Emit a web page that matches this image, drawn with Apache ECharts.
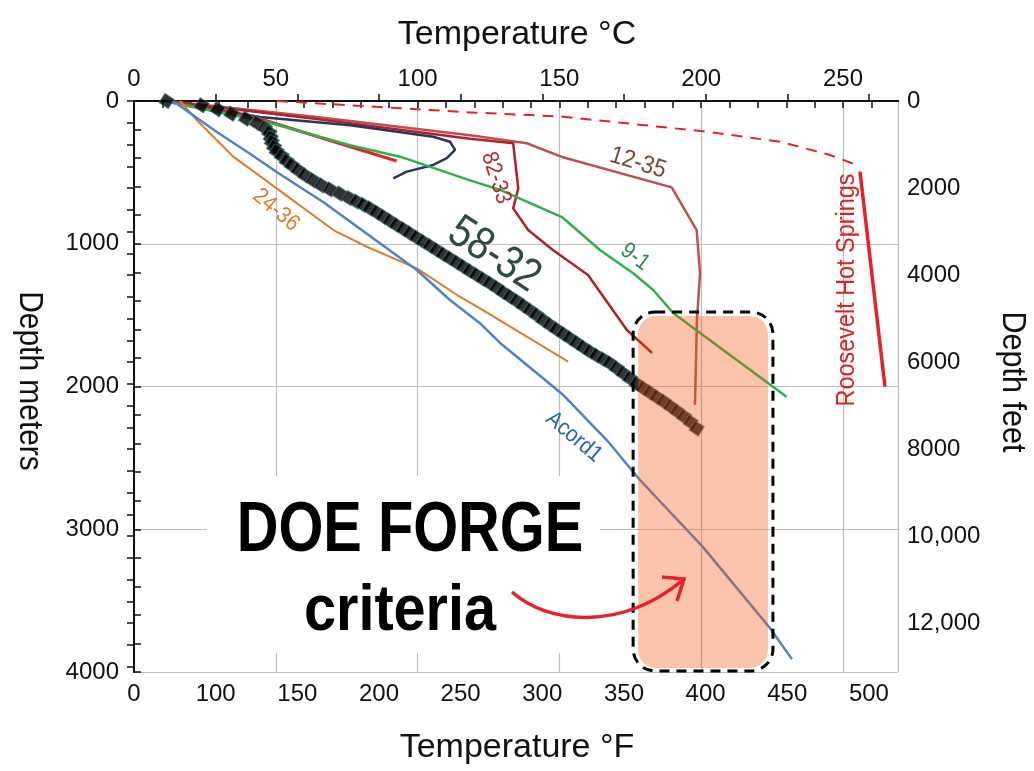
<!DOCTYPE html>
<html>
<head>
<meta charset="utf-8">
<script src="https://cdn.jsdelivr.net/npm/echarts@6/dist/echarts.min.js"></script>
<style>
  html, body { margin: 0; padding: 0; background: #fff; }
  #chart { width: 1034px; height: 771px; }
</style>
</head>
<body>
<div id="chart"></div>
<script>
// tick labels
const tempCTicks = [0, 50, 100, 150, 200, 250];
const tempFTicks = [100, 150, 200, 250, 300, 350, 400, 450, 500];
const depthMTicks = [0, 1000, 2000, 3000, 4000];
const depthFtTicks = [0, 2000, 4000, 6000, 8000, 10000, 12000];

// well profiles: [temperature °C, depth m]
const well5832 = [
  [11.5, 0], [23.9, 30], [29.5, 58], [34.4, 89], [39.5, 124], [43.3, 154], [46.2, 189],
  [47.7, 222], [48.2, 257], [48.6, 287], [49.4, 322], [50.3, 352], [52.1, 385], [53.8, 420],
  [55.6, 450], [57.9, 485], [60.3, 520], [63.2, 556], [66.2, 591], [69.1, 619], [72.6, 649],
  [75.9, 680], [78.5, 705], [80.9, 728], [83.2, 752], [85.6, 781], [87.9, 810], [90.3, 840],
  [92.6, 869], [95.0, 898], [97.3, 927], [99.6, 956], [102.0, 986], [104.4, 1015], [106.7, 1044],
  [109.0, 1073], [111.4, 1102], [113.8, 1132], [116.1, 1161], [118.4, 1190], [120.8, 1219],
  [123.1, 1248], [125.5, 1277], [127.9, 1308], [130.2, 1340], [132.6, 1371], [135.0, 1402],
  [137.3, 1434], [139.7, 1467], [142.0, 1500], [144.3, 1535], [146.7, 1569], [149.0, 1600],
  [151.4, 1631], [153.7, 1662], [156.1, 1694], [158.4, 1725], [160.8, 1756], [163.1, 1783],
  [165.5, 1810], [167.8, 1837], [170.2, 1872], [172.5, 1907], [174.9, 1943], [177.2, 1980],
  [179.6, 2012], [182.0, 2043], [184.4, 2075], [186.8, 2106], [189.2, 2140], [191.6, 2175],
  [194.0, 2211], [196.3, 2250], [198.4, 2293]
];
const wellAcord1 = [
  [11.6, 0], [15.1, 19], [29.2, 217], [40.9, 369], [50.3, 497], [66.7, 708], [99.7, 1184],
  [111.4, 1394], [122.0, 1557], [129.1, 1695], [151.4, 2060], [166.7, 2375], [178.4, 2655],
  [200.5, 3122], [224.3, 3694], [232.0, 3910]
];
const well2436 = [
  [16.2, 0], [22.1, 133], [35.0, 390], [50.3, 612], [70.3, 904], [82.1, 1021], [99.7, 1172],
  [114.9, 1371], [122.0, 1452], [153.1, 1826]
];
const well91 = [
  [11.6, 0], [15.1, 19], [46.8, 147], [76.2, 310], [93.8, 390], [118.5, 556], [129.1, 623],
  [150.9, 813], [164.3, 1044], [175.9, 1205], [183.1, 1324], [190.2, 1487], [230.1, 2071]
];
const well1235 = [
  [11.6, 0], [25.6, 30], [64.4, 112], [118.5, 240], [138.5, 296], [150.9, 392], [189.6, 605],
  [198.4, 904], [199.6, 1205], [198.5, 1534], [197.8, 2130]
];
const well8233 = [
  [11.6, 0], [25.6, 35], [64.4, 126], [118.5, 264], [133.7, 296], [135.5, 612], [133.7, 752],
  [139.0, 904], [147.7, 1044], [160.1, 1219], [173.8, 1604], [182.7, 1765]
];
const wellRedShort = [[11.6, 0], [44.4, 124], [69.1, 277], [92.6, 420]];
const wellNavy = [
  [11.6, 0], [44.4, 112], [76.2, 170], [105.5, 250], [111.4, 285], [113.2, 343], [110.3, 401],
  [105.5, 448], [96.2, 495], [91.4, 542]
];
const rooseveltShallow = [
  [50.4, 0], [116.1, 77], [151.4, 110], [201.9, 215], [227.8, 285], [245.4, 378], [254.8, 448]
];
const rooseveltDeep = [[256.0, 495], [264.8, 2001]];

// FORGE criteria window
const criteriaTemp = [176, 225.3];
const criteriaDepth = [1478, 3993];

const FONT = "'Liberation Sans', Arial, sans-serif";
const TMAX = 269.4, FMIN = 50, FMAX = 517.8, DMAX = 4000, FTMAX = 4000 / 0.3048;

const cMinor = [];
for (let v = 0; v <= 260; v += 10) cMinor.push(v);
const ftMinor = [];
for (let v = 0; v <= 13000; v += 500) ftMinor.push(v);

const chart = echarts.init(document.getElementById('chart'));

function lineSeries(name, data, color, width, type) {
  return {
    name: name, type: 'line', data: data, xAxisIndex: 0, yAxisIndex: 0,
    symbol: 'none', smooth: false, z: 3,
    lineStyle: { color: color, width: width, type: type || 'solid' }
  };
}

const axisText = { color: '#111', fontSize: 24, fontFamily: FONT };

const option = {
  animation: false,
  backgroundColor: '#fff',
  grid: { left: 134, top: 101, width: 764, height: 571, containLabel: false },
  xAxis: [
    {
      type: 'value', position: 'top', min: 0, max: TMAX,
      axisLine: { show: true, lineStyle: { color: '#111', width: 2 } },
      axisTick: { show: true, inside: true, length: 7, customValues: cMinor, lineStyle: { color: '#111', width: 1.5 } },
      axisLabel: Object.assign({ customValues: tempCTicks, margin: 10 }, axisText),
      splitLine: { show: false }
    },
    {
      type: 'value', position: 'bottom', min: FMIN, max: FMAX,
      axisLine: { show: true, lineStyle: { color: '#111', width: 2 } },
      axisTick: { show: true, inside: true, length: 7, customValues: tempFTicks, lineStyle: { color: '#111', width: 1.5 } },
      axisLabel: Object.assign({
        customValues: [FMIN].concat(tempFTicks), margin: 10,
        formatter: function (v) { return v === FMIN ? '0' : String(v); }
      }, axisText),
      splitLine: { show: false }
    },
    {
      type: 'value', position: 'top', min: 0, max: TMAX, interval: 50,
      axisLine: { show: false }, axisTick: { show: false }, axisLabel: { show: false },
      splitLine: { show: true, lineStyle: { color: '#bdbdbd', width: 1.2 } }
    }
  ],
  yAxis: [
    {
      type: 'value', position: 'left', inverse: true, min: 0, max: DMAX, interval: 1000,
      axisLine: { show: true, lineStyle: { color: '#111', width: 2 } },
      axisTick: { show: true, inside: true, length: 7, lineStyle: { color: '#111', width: 1.5 } },
      minorTick: { show: true, splitNumber: 5, length: 7, lineStyle: { color: '#111', width: 1.5 } },
      axisLabel: Object.assign({
        customValues: depthMTicks, margin: 15,
        formatter: function (v) { return String(v); }
      }, axisText),
      splitLine: { show: true, lineStyle: { color: '#bdbdbd', width: 1.2 } }
    },
    {
      type: 'value', position: 'right', inverse: true, min: 0, max: FTMAX,
      axisLine: { show: true, lineStyle: { color: '#111', width: 2 } },
      axisTick: { show: true, inside: true, length: 7, customValues: ftMinor, lineStyle: { color: '#111', width: 1.5 } },
      axisLabel: Object.assign({
        customValues: depthFtTicks, margin: 9,
        formatter: function (v) { return v >= 10000 ? v.toLocaleString('en-US') : String(v); }
      }, axisText),
      splitLine: { show: false }
    }
  ],
  series: [
    lineSeries('Roosevelt shallow', rooseveltShallow, '#e8202a', 2, [11, 8]),
    lineSeries('Roosevelt Hot Springs', rooseveltDeep, '#e8202a', 3.5),
    lineSeries('12-35', well1235, '#c0504d', 2.5),
    lineSeries('82-33', well8233, '#b3202c', 2.5),
    lineSeries('navy', wellNavy, '#27365f', 2.5),
    lineSeries('red', wellRedShort, '#e8202a', 3),
    lineSeries('9-1', well91, '#2db24a', 2.5),
    lineSeries('24-36', well2436, '#e07b2a', 2),
    lineSeries('Acord1', wellAcord1, '#4f82cc', 2.5),
    {
      name: '58-32', type: 'scatter', data: well5832, xAxisIndex: 0, yAxisIndex: 0, z: 4,
      symbol: 'rect', symbolSize: 11, symbolRotate: -33,
      itemStyle: { color: '#000', borderColor: 'rgba(60,120,125,0.9)', borderWidth: 1 }
    }
  ]
};
chart.setOption(option);

function label(text, x, y, deg, size, color, sx, weight) {
  return {
    type: 'text', x: x, y: y, rotation: -deg * Math.PI / 180, scaleX: sx || 1, z: 50,
    style: {
      text: text, fill: color, font: (weight || 'normal') + ' ' + size + 'px ' + FONT,
      align: 'center', verticalAlign: 'middle', textAlign: 'center', textVerticalAlign: 'middle'
    }
  };
}

const p0 = chart.convertToPixel({ xAxisIndex: 0, yAxisIndex: 0 }, [criteriaTemp[0], criteriaDepth[0]]);
const p1 = chart.convertToPixel({ xAxisIndex: 0, yAxisIndex: 0 }, [criteriaTemp[1], criteriaDepth[1]]);
const bx = p0[0], by = p0[1], bw = p1[0] - p0[0], bh = p1[1] - p0[1];

chart.setOption({
  graphic: [
    // white box behind the caption
    { type: 'rect', z: 1, shape: { x: 207, y: 476, width: 393, height: 177 }, style: { fill: '#fff' } },
    label('DOE FORGE', 410, 532, 0, 70, '#000', 0.825, 'bold'),
    label('criteria', 400, 612, 0, 64, '#000', 0.9, 'bold'),
    // criteria window
    {
      type: 'rect', z: 60, shape: { x: bx + 5, y: by + 4, width: bw - 10, height: bh - 7, r: 18 },
      style: { fill: 'rgba(240,86,12,0.35)' }
    },
    {
      type: 'rect', z: 61, shape: { x: bx, y: by, width: bw, height: bh, r: 22 },
      style: { fill: 'none', stroke: '#000', lineWidth: 3, lineDash: [10, 7] }
    },
    // arrow
    {
      type: 'bezierCurve', z: 62,
      shape: { x1: 512, y1: 592, cpx1: 548, cpy1: 624, cpx2: 620, cpy2: 632, x2: 683, y2: 580 },
      style: { stroke: '#e8202a', lineWidth: 3.5, fill: 'none' }
    },
    {
      type: 'polyline', z: 62,
      shape: { points: [[662, 577], [684, 579], [677, 601]] },
      style: { stroke: '#e8202a', lineWidth: 3.5, fill: 'none' }
    },
    // well labels
    label('24-36', 276, 210, 40, 23, '#e0782a', 0.9),
    label('82-33', 496, 178, 72, 23, '#b22830', 0.9),
    label('12-35', 638, 163, 17, 25, '#7a4a30', 0.9),
    label('9-1', 635, 257, 37, 23, '#2e8b50', 0.9),
    label('58-32', 494, 255, 33, 46, '#2f4a45', 0.85),
    label('Acord1', 574, 437, 40, 23, '#2a62b0', 0.9),
    label('Roosevelt Hot Springs', 847, 290, -90, 26, '#e02020', 0.9),
    // axis titles
    label('Temperature °C', 517, 35, 0, 34, '#111'),
    label('Temperature °F', 517, 748, 0, 34, '#111'),
    label('Depth meters', 29, 381, 90, 34, '#111', 0.88),
    label('Depth feet', 1012, 382, 90, 34, '#111', 0.9)
  ]
});

window.addEventListener('resize', function () { chart.resize(); });
</script>
</body>
</html>
